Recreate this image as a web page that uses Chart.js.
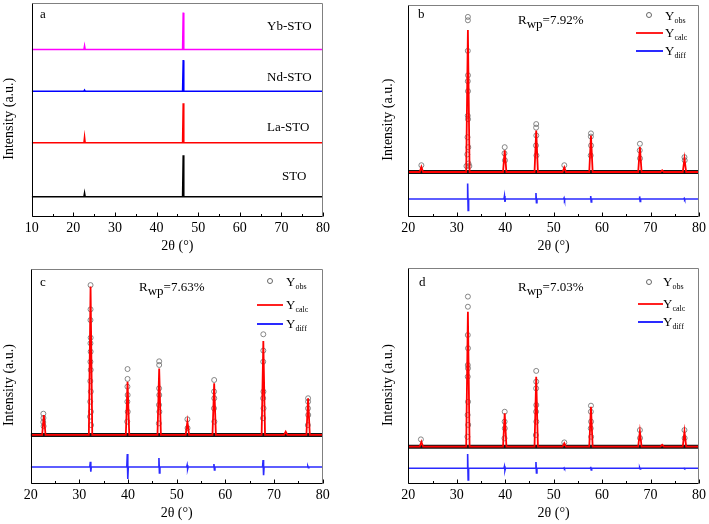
<!DOCTYPE html>
<html>
<head>
<meta charset="utf-8">
<script src="https://cdn.jsdelivr.net/npm/chart.js@4.4.0/dist/chart.umd.min.js"></script>
<style>
    body { margin: 0; background: #fff; }
    #wrap { position: relative; width: 709px; height: 524px; overflow: hidden; font-family: 'Liberation Serif', 'Times New Roman', serif; color: #000; }
    canvas { position: absolute; }
    .t { position: absolute; font-size: 13px; line-height: 14px; white-space: nowrap; }
    .t sub { font-size: 8px; vertical-align: -3px; }
    .t .wp { font-size: 13px; vertical-align: -4px; }
    .ln { position: absolute; height: 2px; }
    .dot { position: absolute; width: 4px; height: 4px; border: 1px solid #666; border-radius: 50%; }
</style>
</head>
<body>
<div id="wrap">
    <canvas id="chartA" width="354" height="255" style="left:0;top:0"></canvas>
    <canvas id="chartB" width="355" height="255" style="left:354px;top:0"></canvas>
    <canvas id="chartC" width="354" height="269" style="left:0;top:255px"></canvas>
    <canvas id="chartD" width="355" height="269" style="left:354px;top:255px"></canvas>

    <!-- panel a labels -->
    <div class="t" style="left:40px;top:7px">a</div>
    <div class="t" style="left:267px;top:19px">Yb-STO</div>
    <div class="t" style="left:267px;top:70px">Nd-STO</div>
    <div class="t" style="left:267px;top:120px">La-STO</div>
    <div class="t" style="left:282px;top:169px">STO</div>

    <!-- panel b -->
    <div class="t" style="left:418px;top:7px">b</div>
    <div class="t" style="left:518px;top:13px">R<span class="wp">wp</span>=7.92%</div>
    <div class="dot" style="left:646px;top:12px"></div>
    <div class="t" style="left:665px;top:9px">Y<sub>obs</sub></div>
    <div class="ln" style="left:636px;top:32px;width:27px;background:#ff2020"></div>
    <div class="t" style="left:665px;top:26px">Y<sub>calc</sub></div>
    <div class="ln" style="left:636px;top:50px;width:27px;background:#2a2aff"></div>
    <div class="t" style="left:665px;top:44px">Y<sub>diff</sub></div>

    <!-- panel c -->
    <div class="t" style="left:40px;top:275px">c</div>
    <div class="t" style="left:139px;top:280px">R<span class="wp">wp</span>=7.63%</div>
    <div class="dot" style="left:267px;top:278px"></div>
    <div class="t" style="left:286px;top:275px">Y<sub>obs</sub></div>
    <div class="ln" style="left:257px;top:304px;width:26px;background:#ff2020"></div>
    <div class="t" style="left:286px;top:298px">Y<sub>calc</sub></div>
    <div class="ln" style="left:257px;top:323px;width:26px;background:#2a2aff"></div>
    <div class="t" style="left:286px;top:317px">Y<sub>diff</sub></div>

    <!-- panel d -->
    <div class="t" style="left:419px;top:275px">d</div>
    <div class="t" style="left:518px;top:280px">R<span class="wp">wp</span>=7.03%</div>
    <div class="dot" style="left:646px;top:279px"></div>
    <div class="t" style="left:663px;top:275px">Y<sub>obs</sub></div>
    <div class="ln" style="left:638px;top:303px;width:25px;background:#ff2020"></div>
    <div class="t" style="left:663px;top:297px">Y<sub>calc</sub></div>
    <div class="ln" style="left:638px;top:321px;width:25px;background:#2a2aff"></div>
    <div class="t" style="left:663px;top:315px">Y<sub>diff</sub></div>
</div>

<script>
// ---- data (intensity in arbitrary units, 0..1000 per panel) ----

// panel a: stacked XRD patterns
const aX = [10, 22.55, 22.7, 22.85, 46.25, 46.4, 46.55, 80];
const aYb = [783, 783, 800, 783, 783, 955, 783, 783];
const aNd = [588, 588, 593, 588, 588, 733, 588, 588];
const aLa = [347, 347, 375, 347, 347, 532, 347, 347];
const aSTO = [95, 95, 113, 95, 95, 289, 95, 95];

// panels b-d: calculated profile (shared 2θ positions)
const calcX = [20, 22.35, 22.7, 23.05, 31.95, 32.3, 32.65, 39.55, 39.9, 40.25, 46.05, 46.4, 46.75,
    51.85, 52.2, 52.55, 57.35, 57.7, 58.05, 67.45, 67.8, 68.15, 72.05, 72.4, 72.75, 76.65, 77.0, 77.35, 80];
const bCalc = [212, 212, 236, 212, 212, 881, 212, 212, 314, 212, 212, 407, 212,
    212, 234, 212, 212, 384, 212, 212, 329, 212, 212, 220, 212, 212, 275, 212, 212];
const cCalc = [227, 227, 320, 227, 227, 918, 227, 227, 475, 227, 227, 537, 227,
    227, 289, 227, 227, 468, 227, 227, 665, 227, 227, 242, 227, 227, 398, 227, 227];
const dCalc = [174, 174, 197, 174, 174, 799, 174, 174, 329, 174, 174, 498, 174,
    174, 190, 174, 174, 359, 174, 174, 244, 174, 174, 183, 174, 174, 244, 174, 174];

// difference curves
const diffX = [20, 32.15, 32.25, 32.35, 32.45, 39.75, 39.85, 39.95, 40.05, 46.25, 46.35, 46.45, 46.55,
    52.05, 52.15, 52.25, 52.35, 57.55, 57.65, 57.75, 57.85, 67.65, 67.75, 67.85, 67.95,
    76.85, 76.95, 77.05, 77.15, 80];
const bDiff = [85, 85, 158, 31, 85, 85, 99, 71, 85, 85, 113, 67, 85,
    85, 90, 80, 85, 85, 99, 71, 85, 85, 97, 73, 85, 85, 88, 82, 85, 85];
const cDiff = [78, 78, 102, 56, 78, 78, 138, 22, 78, 78, 120, 50, 78,
    78, 87, 69, 78, 78, 92, 64, 78, 78, 110, 40, 78, 78, 81, 75, 78, 78];
const dDiff = [74, 74, 140, 20, 74, 74, 83, 65, 74, 74, 103, 52, 74,
    74, 76, 72, 74, 74, 81, 67, 74, 74, 77, 71, 74, 74, 75, 73, 74, 74];

// flat part of the observed pattern (dense band of points)
const bandX = [20, 80];
const bBand = [212, 212];
const cBand = [227, 227];
const dBand = [174, 174];

// observed points on the peaks
const bObsX = [22.7, 32.0, 32.3, 32.3, 32.28, 32.32, 32.28, 32.32, 32.27, 32.33, 32.22, 32.38, 32.18, 32.42, 32.6,
    39.9, 39.85, 39.95, 46.4, 46.38, 46.42, 46.35, 46.45, 52.2, 57.7, 57.68, 57.72, 57.65,
    67.8, 67.77, 67.83, 77.0, 77.05];
const bObsY = [244, 240, 943, 927, 783, 668, 640, 593, 477, 461, 376, 329, 295, 252, 240,
    329, 300, 267, 438, 421, 384, 337, 290, 244, 394, 379, 337, 290,
    345, 314, 276, 282, 267];

const cObsX = [22.6, 22.62, 22.58, 22.65,
    32.3, 32.3, 32.28, 32.32, 32.28, 32.32, 32.27, 32.33, 32.25, 32.35, 32.23, 32.37, 32.2, 32.4,
    39.9, 39.9, 39.88, 39.92, 39.86, 39.94, 39.83,
    46.4, 46.4, 46.38, 46.42, 46.36, 46.44, 46.33,
    52.2, 52.23, 57.7, 57.68, 57.72, 57.66, 57.74,
    67.8, 67.8, 67.78, 67.82, 67.76, 67.84, 67.74,
    77.0, 77.0, 76.98, 77.03, 76.95];
const cObsY = [326, 306, 287, 268,
    925, 812, 762, 680, 654, 615, 568, 530, 478, 429, 382, 335, 312, 273,
    534, 488, 452, 413, 382, 335, 289,
    570, 553, 444, 413, 367, 335, 281,
    300, 259, 483, 429, 398, 351, 289,
    696, 620, 568, 429, 398, 351, 305,
    398, 382, 351, 320, 273];

const dObsX = [22.6,
    32.3, 32.3, 32.28, 32.32, 32.28, 32.32, 32.27, 32.33, 32.24, 32.36, 32.2,
    39.9, 39.88, 39.92, 39.85,
    46.4, 46.4, 46.38, 46.42, 46.37, 46.43, 46.33,
    52.2, 57.7, 57.68, 57.72, 57.66, 57.74,
    67.8, 67.83, 77.0, 77.03];
const dObsY = [208,
    869, 822, 691, 630, 552, 537, 498, 382, 321, 275, 220,
    336, 290, 259, 213,
    525, 475, 444, 367, 336, 290, 228,
    194, 364, 336, 290, 259, 220,
    251, 214, 251, 214];

// x axis tick marks
const majorA = [10, 20, 30, 40, 50, 60, 70, 80];
const minorA = [15, 25, 35, 45, 55, 65, 75];
const majorB = [20, 30, 40, 50, 60, 70, 80];
const minorB = [25, 35, 45, 55, 65, 75];

Chart.defaults.font.family = "'Liberation Serif', 'Times New Roman', serif";
Chart.defaults.color = '#000';

function pts(xs, ys) {
    return xs.map((x, i) => ({ x: x, y: ys[i] }));
}

function lineSet(xs, ys, color, width, order) {
    return { data: pts(xs, ys), showLine: true, borderColor: color, borderWidth: width, pointRadius: 0, order: order };
}

function obsSet(xs, ys) {
    return {
        data: pts(xs, ys), showLine: false, pointRadius: 2.5, pointBorderWidth: 0.8,
        pointBorderColor: '#6a6a6a', pointBackgroundColor: 'rgba(0,0,0,0)', order: 1
    };
}

// box around plot + inward tick marks on the bottom axis
const frameTicks = {
    id: 'frameTicks',
    afterDraw(chart, args, opts) {
        const { ctx, chartArea: { left, right, top, bottom }, scales: { x } } = chart;
        const l = Math.round(left) + 0.5, r = Math.round(right) - 0.5;
        const t = Math.round(top) + 0.5, b = Math.round(bottom) - 0.5;
        ctx.save();
        ctx.lineWidth = 1;
        ctx.strokeStyle = '#808080';
        ctx.beginPath();
        ctx.moveTo(l, t); ctx.lineTo(r, t); ctx.lineTo(r, b);
        ctx.stroke();
        ctx.strokeStyle = '#000';
        ctx.beginPath();
        ctx.moveTo(l, t); ctx.lineTo(l, b); ctx.lineTo(r, b);
        opts.major.forEach(v => {
            const px = Math.round(x.getPixelForValue(v)) + 0.5;
            ctx.moveTo(px, b); ctx.lineTo(px, b - 4);
        });
        opts.minor.forEach(v => {
            const px = Math.round(x.getPixelForValue(v)) + 0.5;
            ctx.moveTo(px, b); ctx.lineTo(px, b - 2.5);
        });
        ctx.stroke();
        ctx.restore();
    }
};

function buildPanel(id, p) {
    return new Chart(document.getElementById(id), {
        type: 'scatter',
        data: { datasets: p.datasets },
        options: {
            responsive: false,
            animation: false,
            devicePixelRatio: 1,
            layout: { padding: p.pad },
            plugins: {
                legend: { display: false },
                tooltip: { enabled: false },
                frameTicks: { major: p.major, minor: p.minor }
            },
            scales: {
                x: {
                    type: 'linear', min: p.xMin, max: 80,
                    grid: { display: false, drawTicks: false },
                    border: { display: false },
                    ticks: { stepSize: 10, padding: 3, maxRotation: 0, font: { size: 14 }, color: '#000' },
                    title: { display: true, text: '2θ (°)', font: { size: 14 }, color: '#000', padding: { top: 0, bottom: p.xTitlePad } },
                    afterFit: s => { s.height = p.xH; }
                },
                y: {
                    min: 0, max: 1000,
                    grid: { display: false, drawTicks: false },
                    border: { display: false },
                    ticks: { display: false },
                    title: { display: true, text: 'Intensity (a.u.)     ', font: { size: 14 }, color: '#000', padding: { top: p.yTitlePad, bottom: 0 } },
                    afterFit: s => { s.width = p.yW; }
                }
            }
        },
        plugins: [frameTicks]
    });
}

document.addEventListener('DOMContentLoaded', () => {

    // a
    buildPanel('chartA', {
        datasets: [
            lineSet(aX, aYb, '#ff00ff', 1.5, 0),
            lineSet(aX, aNd, '#0000ff', 1.5, 0),
            lineSet(aX, aLa, '#ff0000', 1.5, 0),
            lineSet(aX, aSTO, '#000000', 1.5, 0)
        ],
        pad: { left: 0, right: 31, top: 3, bottom: 0 },
        xMin: 10, xH: 38, yW: 31.7, xTitlePad: 0, yTitlePad: 0.6,
        major: majorA, minor: minorA
    });

    // b
    buildPanel('chartB', {
        datasets: [
            lineSet(calcX, bCalc, '#ff0000', 1.8, 0),
            obsSet(bObsX, bObsY),
            lineSet(bandX, bBand, '#151515', 4, 2),
            lineSet(diffX, bDiff, '#2a2aff', 1.6, 3)
        ],
        pad: { left: 0, right: 7.3, top: 3, bottom: 0 },
        xMin: 20, xH: 38, yW: 54.3, xTitlePad: 0, yTitlePad: 25.6,
        major: majorB, minor: minorB
    });

    // c
    buildPanel('chartC', {
        datasets: [
            lineSet(calcX, cCalc, '#ff0000', 1.8, 0),
            obsSet(cObsX, cObsY),
            lineSet(bandX, cBand, '#151515', 4, 2),
            lineSet(diffX, cDiff, '#2a2aff', 1.6, 3)
        ],
        pad: { left: 0, right: 31.3, top: 14, bottom: 0 },
        xMin: 20, xH: 40.3, yW: 30.7, xTitlePad: 2, yTitlePad: 0.9,
        major: majorB, minor: minorB
    });

    // d
    buildPanel('chartD', {
        datasets: [
            lineSet(calcX, dCalc, '#ff0000', 1.8, 0),
            obsSet(dObsX, dObsY),
            lineSet(bandX, dBand, '#151515', 4, 2),
            lineSet(diffX, dDiff, '#2a2aff', 1.6, 3)
        ],
        pad: { left: 0, right: 7.3, top: 13.3, bottom: 0 },
        xMin: 20, xH: 39.7, yW: 54.3, xTitlePad: 2, yTitlePad: 25.6,
        major: majorB, minor: minorB
    });

});
</script>
</body>
</html>
